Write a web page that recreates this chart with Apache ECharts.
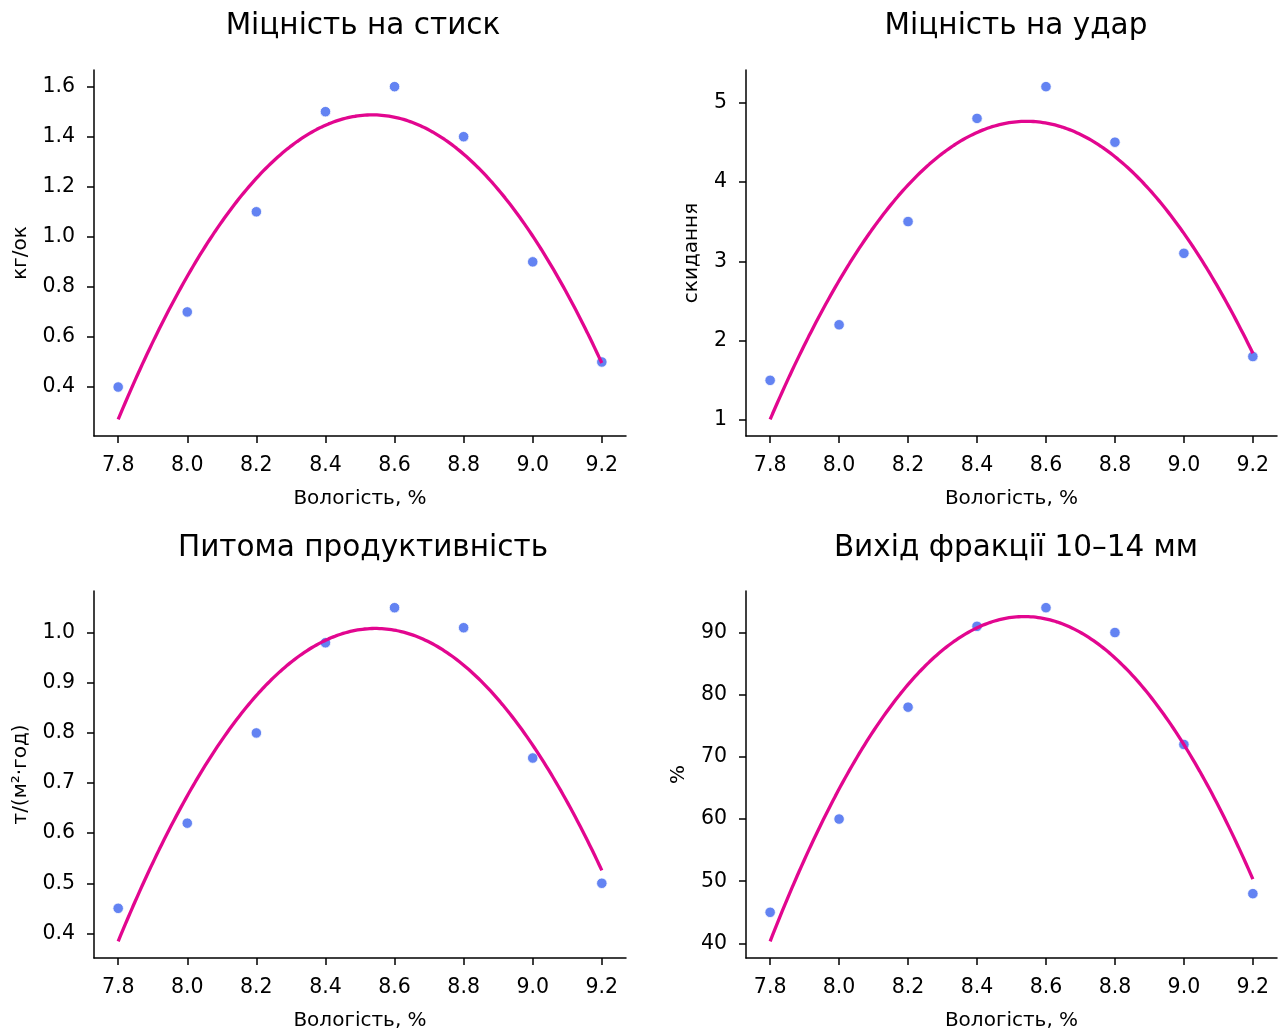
<!DOCTYPE html>
<html>
<head>
<meta charset="utf-8">
<script src="https://cdn.jsdelivr.net/npm/echarts@6/dist/echarts.min.js"></script>
<style>
html,body{margin:0;padding:0;background:#fff;}
#chart{width:1287px;height:1034px;}
</style>
</head>
<body>
<div id="chart"></div>
<script>
// ---- data ----
const moisture = [7.8, 8.0, 8.2, 8.4, 8.6, 8.8, 9.0, 9.2];
const compressiveStrength = [0.4, 0.7, 1.1, 1.5, 1.6, 1.4, 0.9, 0.5];
const impactStrength = [1.5, 2.2, 3.5, 4.8, 5.2, 4.5, 3.1, 1.8];
const productivity = [0.45, 0.62, 0.8, 0.98, 1.05, 1.01, 0.75, 0.5];
const fractionYield = [45, 60, 78, 91, 94, 90, 72, 48];

const titles = ['Міцність на стиск', 'Міцність на удар', 'Питома продуктивність', 'Вихід фракції 10–14 мм'];
const yNames = ['кг/ок', 'скидання', 'т/(м²·год)', '%'];
const xName = 'Вологість, %';

const xTicks = [7.8, 8.0, 8.2, 8.4, 8.6, 8.8, 9.0, 9.2];
const yTicks1 = [0.4, 0.6, 0.8, 1.0, 1.2, 1.4, 1.6];
const yTicks2 = [1, 2, 3, 4, 5];
const yTicks3 = [0.4, 0.5, 0.6, 0.7, 0.8, 0.9, 1.0];
const yTicks4 = [40, 50, 60, 70, 80, 90];

// ---- quadratic least-squares fit (as in the original trend lines) ----
function quadFit(xs, ys) {
  let S = [0,0,0,0,0], T = [0,0,0];
  for (let i = 0; i < xs.length; i++) {
    let p = 1;
    for (let k = 0; k < 5; k++) { S[k] += p; if (k < 3) T[k] += p * ys[i]; p *= xs[i]; }
  }
  const A = [[S[0],S[1],S[2],T[0]],[S[1],S[2],S[3],T[1]],[S[2],S[3],S[4],T[2]]];
  for (let c = 0; c < 3; c++) {
    for (let r = c + 1; r < 3; r++) {
      const f = A[r][c] / A[c][c];
      for (let k = c; k < 4; k++) A[r][k] -= f * A[c][k];
    }
  }
  const b = [0,0,0];
  for (let r = 2; r >= 0; r--) {
    let s = A[r][3];
    for (let k = r + 1; k < 3; k++) s -= A[r][k] * b[k];
    b[r] = s / A[r][r];
  }
  return b; // c0 + c1 x + c2 x^2
}
function fitCurve(xs, ys) {
  const b = quadFit(xs, ys);
  const x0 = xs[0], x1 = xs[xs.length - 1], n = 200, out = [];
  for (let i = 0; i <= n; i++) {
    const x = x0 + (x1 - x0) * i / n;
    out.push([x, b[0] + b[1] * x + b[2] * x * x]);
  }
  return out;
}
function padRange(vals) {
  const lo = Math.min(...vals), hi = Math.max(...vals), m = (hi - lo) * 0.05;
  return [lo - m, hi + m];
}

const series = [compressiveStrength, impactStrength, productivity, fractionYield];
const yTickSets = [yTicks1, yTicks2, yTicks3, yTicks4];
const yDecimals = [1, 0, 1, 0];
const grids = [
  {left: 94, right: 661, top: 70, bottom: 598},
  {left: 746, right: 10, top: 70, bottom: 598},
  {left: 94, right: 661, top: 591, bottom: 76},
  {left: 746, right: 10, top: 591, bottom: 76}
];
const titlePos = [
  {x: 358, y: 6}, {x: 1011, y: 6}, {x: 358, y: 528}, {x: 1011, y: 528}
];
const yNameGaps = [63, 44, 63, 57];

const FONT = 'DejaVu Sans';
const option = {
  animation: false,
  backgroundColor: '#fff',
  title: titles.map((t, i) => ({
    text: t, left: titlePos[i].x, top: titlePos[i].y, textAlign: 'center',
    textStyle: {fontFamily: FONT, fontSize: 29.5, fontWeight: 'normal', color: '#000'}
  })),
  grid: grids,
  xAxis: [], yAxis: [], series: []
};

const xr = padRange(moisture);
for (let i = 0; i < 4; i++) {
  const curve = fitCurve(moisture, series[i]);
  const yr = padRange(series[i].concat(curve.map(p => p[1])));
  option.xAxis.push({
    type: 'value', gridIndex: i, min: xr[0], max: xr[1],
    name: xName, nameLocation: 'middle', nameGap: 53,
    nameTextStyle: {fontFamily: FONT, fontSize: 20, color: '#000'},
    axisLine: {show: true, onZero: false, lineStyle: {color: '#000', width: 1.5}},
    axisTick: {show: true, length: 7, lineStyle: {color: '#000', width: 1.5}, customValues: xTicks},
    axisLabel: {fontFamily: FONT, fontSize: 20.5, color: '#000', margin: 19,
      customValues: xTicks, formatter: v => v.toFixed(1)},
    splitLine: {show: false}
  });
  const dec = yDecimals[i];
  option.yAxis.push({
    type: 'value', gridIndex: i, min: yr[0], max: yr[1],
    name: yNames[i], nameLocation: 'middle', nameGap: yNameGaps[i],
    nameTextStyle: {fontFamily: FONT, fontSize: 20, color: '#000'},
    axisLine: {show: true, onZero: false, lineStyle: {color: '#000', width: 1.5}},
    axisTick: {show: true, length: 7, lineStyle: {color: '#000', width: 1.5}, customValues: yTickSets[i]},
    axisLabel: {fontFamily: FONT, fontSize: 20.5, color: '#000', margin: 19,
      customValues: yTickSets[i], formatter: v => v.toFixed(dec)},
    splitLine: {show: false}
  });
  option.series.push({
    type: 'scatter', xAxisIndex: i, yAxisIndex: i,
    data: moisture.map((x, k) => [x, series[i][k]]),
    symbolSize: 10.5,
    itemStyle: {color: '#6383f2', borderColor: '#fff', borderWidth: 0.8, opacity: 1},
    z: 2
  });
  option.series.push({
    type: 'line', xAxisIndex: i, yAxisIndex: i,
    data: curve, showSymbol: false, smooth: false,
    lineStyle: {color: '#e2068f', width: 3.3},
    z: 3
  });
}

const chart = echarts.init(document.getElementById('chart'), null, {renderer: 'canvas'});
chart.setOption(option);
</script>
</body>
</html>
